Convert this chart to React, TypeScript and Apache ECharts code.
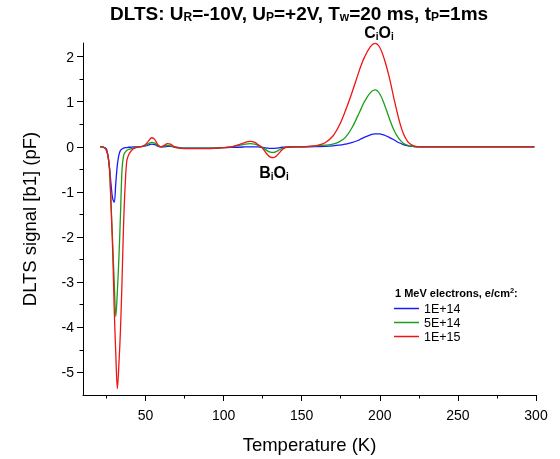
import React, { useEffect, useRef } from "react";
import * as echarts from "echarts";

const T = [21, 22, 23, 24, 25, 26, 27, 28, 29, 30, 31, 32, 33, 34, 35, 36, 37, 38, 39, 40, 42, 44, 46, 48, 50, 52, 54, 56, 58, 60, 62, 64, 66, 68, 70, 75, 80, 90, 100, 105, 110, 114, 117, 120, 122, 124, 126, 128, 130, 132, 134, 136, 138, 140, 145, 150, 155, 160, 165, 170, 174, 178, 182, 186, 188, 190, 194, 197, 200, 203, 206, 209, 212, 215, 218, 221, 224, 230, 240, 260, 280, 299];

const blue1E14 = [0, 0, -0.01, -0.02, -0.05, -0.2, -0.47, -0.85, -1.15, -1.23, -0.8, -0.4, -0.18, -0.08, -0.05, -0.03, -0.02, -0.02, -0.01, -0.01, 0, 0, 0, 0.01, 0.02, 0.04, 0.06, 0.05, 0.01, 0, 0, 0.01, 0.01, 0, -0.01, -0.03, -0.03, -0.03, -0.02, -0.01, -0.01, 0, 0, 0, 0, -0.01, -0.02, -0.03, -0.035, -0.035, -0.03, -0.02, -0.01, -0.01, 0, 0, 0, 0.005, 0.01, 0.02, 0.035, 0.06, 0.09, 0.14, 0.175, 0.21, 0.265, 0.288, 0.284, 0.256, 0.21, 0.155, 0.095, 0.05, 0.02, 0.008, 0, 0, 0, 0, 0, 0];

const green5E14 = [0, 0, -0.01, -0.03, -0.08, -0.2, -0.5, -1.3, -2.15, -3.0, -3.76, -3.2, -2.45, -1.5, -0.5, -0.19, -0.12, -0.08, -0.06, -0.05, -0.03, -0.01, 0, 0.01, 0.03, 0.07, 0.1, 0.08, 0.02, 0, 0.01, 0.03, 0.02, 0, -0.02, -0.03, -0.03, -0.03, -0.02, 0, 0.03, 0.06, 0.07, 0.06, 0.03, 0, -0.04, -0.09, -0.12, -0.125, -0.1, -0.06, -0.03, -0.01, 0, 0, 0.01, 0.02, 0.035, 0.06, 0.11, 0.21, 0.41, 0.69, 0.84, 0.99, 1.2, 1.26, 1.17, 0.93, 0.64, 0.37, 0.19, 0.08, 0.03, 0.01, 0, 0, 0, 0, 0, 0];

const red1E15 = [0, 0, -0.01, -0.03, -0.08, -0.2, -0.5, -1.35, -2.3, -3.6, -4.6, -5.36, -4.8, -4.05, -2.95, -1.7, -0.85, -0.32, -0.2, -0.13, -0.05, -0.02, 0, 0.01, 0.05, 0.13, 0.2, 0.16, 0.04, 0, 0.03, 0.07, 0.06, 0.01, -0.02, -0.04, -0.04, -0.04, -0.02, 0, 0.05, 0.1, 0.12, 0.1, 0.05, 0, -0.08, -0.17, -0.23, -0.24, -0.2, -0.12, -0.05, -0.01, 0, 0, 0.01, 0.03, 0.09, 0.24, 0.47, 0.8, 1.18, 1.6, 1.8, 1.97, 2.22, 2.29, 2.2, 1.93, 1.55, 1.08, 0.64, 0.3, 0.11, 0.03, 0.005, 0, 0, 0, 0, 0];

const seriesNames = ["1E+14", "5E+14", "1E+15"];
const seriesColors = ["#1a1aff", "#1b9e1b", "#f01414"];

const xTicks = [50, 100, 150, 200, 250, 300];
const xMinorTicks = [25, 75, 125, 175, 225, 275];
const yTicks = [-5, -4, -3, -2, -1, 0, 1, 2];
const yMinorTicks = [-4.5, -3.5, -2.5, -1.5, -0.5, 0.5, 1.5];

const FONT = "'Liberation Sans', Arial, sans-serif";

export default function App() {
  const ref = useRef<HTMLDivElement>(null);
  useEffect(() => {
    if (!ref.current) return;
    const chart = echarts.init(ref.current, null, { renderer: "svg" });
    const values = [blue1E14, green5E14, red1E15];
    const xMin = 10, xMax = 300, yMin = -5.5, yMax = 2.3;
    const baseAxisX = {
      type: "value" as const,
      min: xMin,
      max: xMax,
      splitLine: { show: false },
    };
    const baseAxisY = {
      type: "value" as const,
      min: yMin,
      max: yMax,
      splitLine: { show: false },
    };
    chart.setOption({
      animation: false,
      textStyle: { fontFamily: FONT },
      title: [
        {
          left: 110,
          top: 3,
          padding: 0,
          text: "{b|DLTS: U}{s|R}{b|=-10V, U}{s|P}{b|=+2V, T}{s|w}{b|=20 ms, t}{s|P}{b|=1ms}",
          textStyle: {
            rich: {
              b: { fontSize: 19, fontWeight: "bold", color: "#000", fontFamily: FONT, lineHeight: 20 },
              s: { fontSize: 12, fontWeight: "bold", color: "#000", fontFamily: FONT, lineHeight: 6, verticalAlign: "bottom" },
            },
          },
        },
        {
          left: 395,
          top: 286,
          padding: 0,
          text: "{t|1 MeV electrons, e/cm}{u|2}{t|:}",
          textStyle: {
            rich: {
              t: { fontSize: 11, fontWeight: "bold", color: "#000", fontFamily: FONT, lineHeight: 14 },
              u: { fontSize: 7.5, fontWeight: "bold", color: "#000", fontFamily: FONT, lineHeight: 8, verticalAlign: "top" },
            },
          },
        },
      ],
      legend: {
        data: seriesNames,
        orient: "vertical",
        left: 394,
        top: 302,
        padding: 0,
        icon: "rect",
        itemWidth: 25,
        itemHeight: 1.5,
        itemGap: 1,
        textStyle: { fontSize: 12.5, color: "#000", fontFamily: FONT, lineHeight: 12 },
      },
      grid: { left: 83, right: 24, top: 43, bottom: 60, containLabel: false },
      xAxis: [
        {
          ...baseAxisX,
          name: "Temperature (K)",
          nameLocation: "middle",
          nameGap: 40,
          nameTextStyle: { fontSize: 18.5, color: "#000", fontFamily: FONT },
          axisLine: { onZero: false, lineStyle: { color: "#000", width: 1 } },
          axisTick: { show: true, length: 6, customValues: xTicks, lineStyle: { color: "#000" } },
          axisLabel: { customValues: xTicks, fontSize: 14, color: "#000", margin: 13, fontFamily: FONT },
        },
        {
          ...baseAxisX,
          position: "bottom",
          axisLine: { show: false, onZero: false },
          axisTick: { show: true, length: 3.5, customValues: xMinorTicks, lineStyle: { color: "#000" } },
          axisLabel: { show: false },
        },
      ],
      yAxis: [
        {
          ...baseAxisY,
          name: "DLTS signal [b1] (pF)",
          nameLocation: "middle",
          nameGap: 44,
          nameTextStyle: { fontSize: 18.5, color: "#000", fontFamily: FONT },
          axisLine: { show: true, onZero: false, lineStyle: { color: "#000", width: 1 } },
          axisTick: { show: true, length: 6, customValues: yTicks, lineStyle: { color: "#000" } },
          axisLabel: { customValues: yTicks, fontSize: 14, color: "#000", margin: 9, fontFamily: FONT },
        },
        {
          ...baseAxisY,
          position: "left",
          axisLine: { show: false, onZero: false },
          axisTick: { show: true, length: 3.5, customValues: yMinorTicks, lineStyle: { color: "#000" } },
          axisLabel: { show: false },
        },
      ],
      graphic: [
        {
          type: "text",
          x: 379,
          y: 24,
          style: {
            text: "{m|C}{s|i}{m|O}{s|i}",
            align: "center",
            verticalAlign: "top",
            rich: {
              m: { fontSize: 16, fontWeight: "bold", fill: "#000", fontFamily: FONT, lineHeight: 17 },
              s: { fontSize: 10, fontWeight: "bold", fill: "#000", fontFamily: FONT, lineHeight: 8, verticalAlign: "bottom" },
            },
          },
        },
        {
          type: "text",
          x: 274,
          y: 164,
          style: {
            text: "{m|B}{s|i}{m|O}{s|i}",
            align: "center",
            verticalAlign: "top",
            rich: {
              m: { fontSize: 16, fontWeight: "bold", fill: "#000", fontFamily: FONT, lineHeight: 17 },
              s: { fontSize: 10, fontWeight: "bold", fill: "#000", fontFamily: FONT, lineHeight: 8, verticalAlign: "bottom" },
            },
          },
        },
      ],
      series: seriesNames.map((name, k) => ({
        name,
        type: "line",
        xAxisIndex: 0,
        yAxisIndex: 0,
        symbol: "none",
        smooth: 0.35,
        color: seriesColors[k],
        lineStyle: { color: seriesColors[k], width: 1.3 },
        data: T.map((t, i) => [t, values[k][i]]),
      })),
    });
    return () => chart.dispose();
  }, []);
  return <div ref={ref} style={{ position: "fixed", left: 0, top: 0, width: 560, height: 459 }} />;
}
